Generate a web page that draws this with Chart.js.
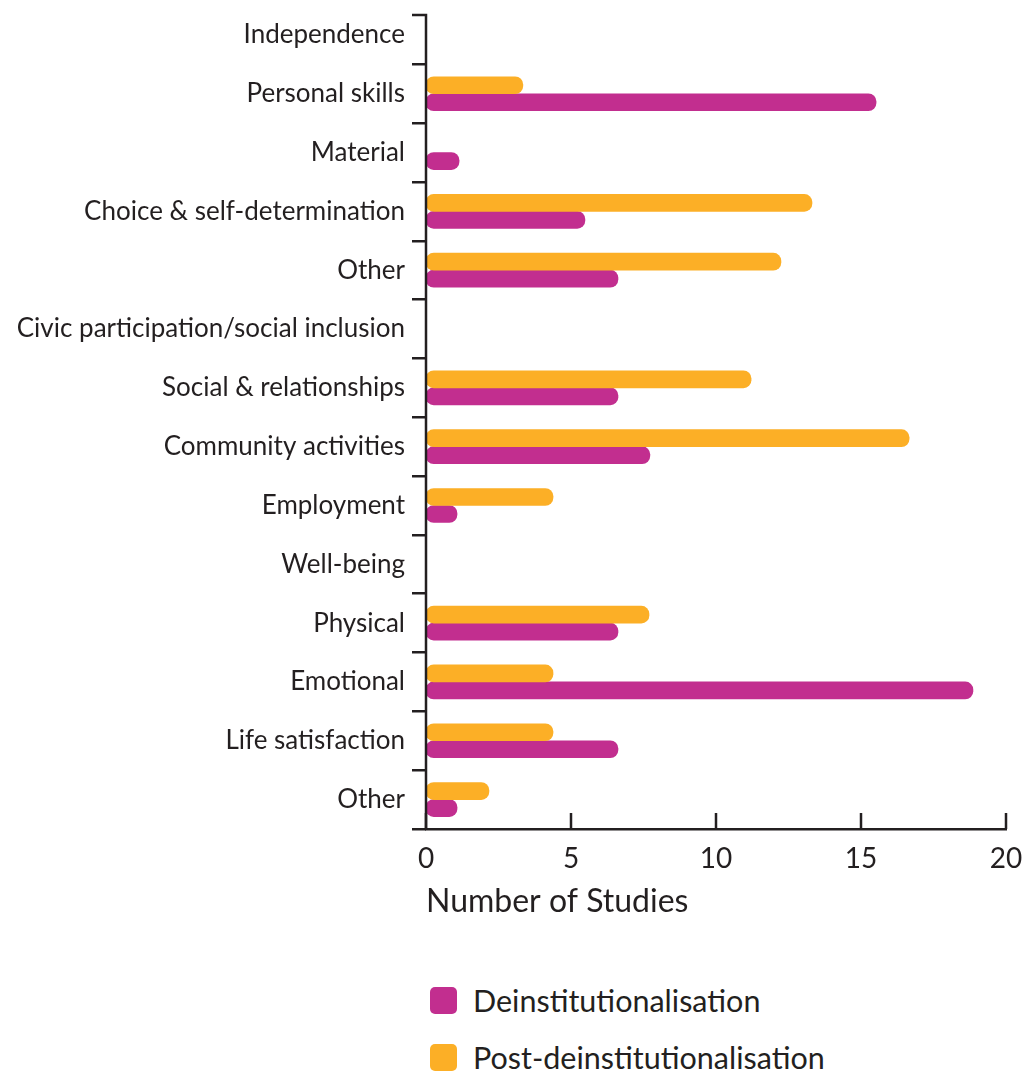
<!DOCTYPE html>
<html>
<head>
<meta charset="utf-8">
<script src="https://cdn.jsdelivr.net/npm/chart.js@4/dist/chart.umd.min.js"></script>
<style>
  html, body { margin: 0; padding: 0; background: #ffffff; }
  #wrap { position: relative; width: 1026px; height: 1072px; }
  #c { position: absolute; left: 0; top: 0; }
  .leg { position: absolute; left: 430px; font-family: Lato, sans-serif; font-size: 30.5px; color: #231f20; display: flex; align-items: center; }
  .sw { width: 27px; height: 27px; border-radius: 5px; margin-right: 16px; }
</style>
</head>
<body>
<div id="wrap">
  <canvas id="c" width="1026" height="940"></canvas>
  <div class="leg" style="top:982px;"><span class="sw" style="background:#C22E8F"></span><span>Deinstitutionalisation</span></div>
  <div class="leg" style="top:1039px;"><span class="sw" style="background:#FCAF26"></span><span>Post-deinstitutionalisation</span></div>
</div>
<script>
const categories = [
  "Independence", "Personal skills", "Material", "Choice & self-determination", "Other",
  "Civic participation/social inclusion", "Social & relationships", "Community activities", "Employment",
  "Well-being", "Physical", "Emotional", "Life satisfaction", "Other"
];
const seriesNames = ["Post-deinstitutionalisation", "Deinstitutionalisation"];
const postDeinst = [null, 3.34, null, 13.31, 12.24, null, 11.21, 16.66, 4.38, null, 7.69, 4.38, 4.38, 2.17];
const deinst     = [null, 15.52, 1.14, 5.48, 6.62, null, 6.62, 7.72, 1.07, null, 6.62, 18.86, 6.62, 1.07];
const xTicks = [0, 5, 10, 15, 20];
const xTitle = "Number of Studies";

const MAGENTA = "#C22E8F";
const ORANGE = "#FCAF26";
const INK = "#231f20";

const axisMarks = {
  id: "axisMarks",
  afterDraw(chart) {
    const x = chart.scales.x;
    const y = chart.scales.y;
    const ctx = chart.ctx;
    ctx.save();
    ctx.strokeStyle = INK;
    ctx.lineWidth = 2.5;
    // inward x tick marks
    xTicks.forEach(v => {
      const px = x.getPixelForValue(v);
      ctx.beginPath();
      ctx.moveTo(px, x.top);
      ctx.lineTo(px, x.top - 16);
      ctx.stroke();
    });
    // y axis line and top tick
    const topY = y.top + 9.5;
    ctx.beginPath();
    ctx.moveTo(y.right - 14, topY);
    ctx.lineTo(y.right, topY);
    ctx.lineTo(y.right, y.bottom);
    ctx.stroke();
    ctx.restore();
  }
};

new Chart(document.getElementById("c"), {
  type: "bar",
  data: {
    labels: categories,
    datasets: [
      { label: seriesNames[0], data: postDeinst, backgroundColor: ORANGE, borderRadius: 8, borderSkipped: false, barThickness: 17 },
      { label: seriesNames[1], data: deinst, backgroundColor: MAGENTA, borderRadius: 8, borderSkipped: false, barThickness: 17 }
    ]
  },
  options: {
    indexAxis: "y",
    responsive: false,
    animation: false,
    layout: { padding: { top: 5.5, right: 20, left: 0, bottom: 0 } },
    plugins: { legend: { display: false }, tooltip: { enabled: false } },
    scales: {
      x: {
        min: 0, max: 20,
        afterBuildTicks(scale) { scale.ticks = xTicks.map(v => ({ value: v })); },
        afterFit(scale) { scale.height = 111; scale.paddingLeft = 0; scale.paddingRight = 0; },
        grid: { display: false },
        border: { display: true, color: INK, width: 2.5 },
        ticks: { color: INK, font: { family: "Lato", size: 28 }, padding: 5 },
        title: { display: true, text: xTitle, align: "start", color: INK, font: { family: "Lato", size: 32 }, padding: { top: 0, bottom: 19 } }
      },
      y: {
        afterFit(scale) { scale.width = 426; scale.paddingTop = 0; scale.paddingBottom = 0; },
        grid: {
          drawOnChartArea: false, drawTicks: true, tickLength: 14, lineWidth: 2.5,
          color: (c) => (c.index === 0 ? "rgba(0,0,0,0)" : INK)
        },
        border: { display: false },
        ticks: { color: INK, font: { family: "Lato", size: 26 }, padding: 7, autoSkip: false }
      }
    }
  },
  plugins: [axisMarks]
});
</script>
</body>
</html>
